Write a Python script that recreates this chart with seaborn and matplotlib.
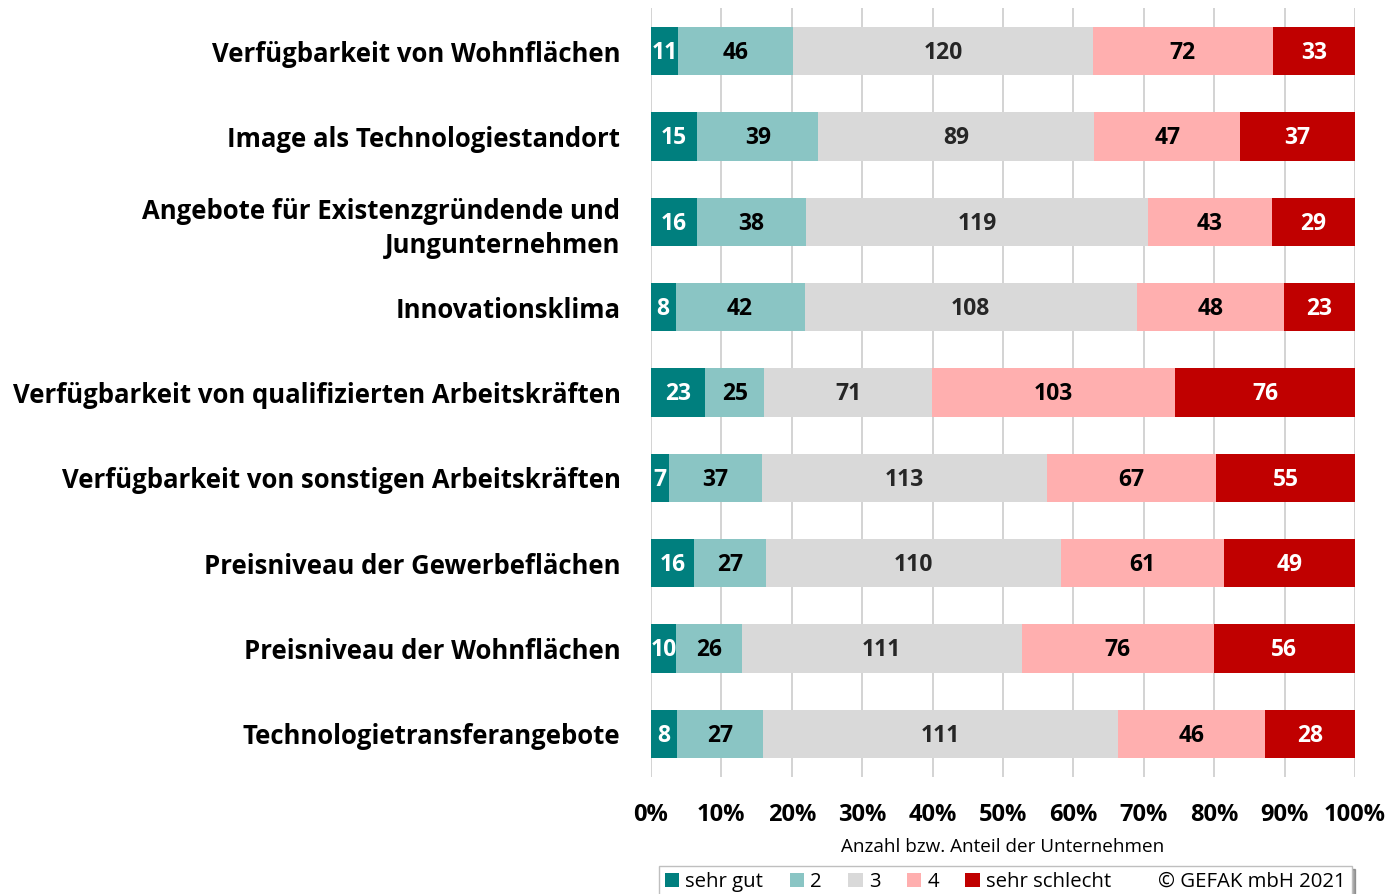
import numpy as np
import pandas as pd
import matplotlib
matplotlib.use("Agg")
import matplotlib.pyplot as plt
import seaborn as sns
from matplotlib.patches import Patch

# Data
categories = [
    "Verfügbarkeit von Wohnflächen",
    "Image als Technologiestandort",
    "Angebote für Existenzgründende und\nJungunternehmen",
    "Innovationsklima",
    "Verfügbarkeit von qualifizierten Arbeitskräften",
    "Verfügbarkeit von sonstigen Arbeitskräften",
    "Preisniveau der Gewerbeflächen",
    "Preisniveau der Wohnflächen",
    "Technologietransferangebote",
]
sehr_gut = [11, 15, 16, 8, 23, 7, 16, 10, 8]
note_2 = [46, 39, 38, 42, 25, 37, 27, 26, 27]
note_3 = [120, 89, 119, 108, 71, 113, 110, 111, 111]
note_4 = [72, 47, 43, 48, 103, 67, 61, 76, 46]
sehr_schlecht = [33, 37, 29, 23, 76, 55, 49, 56, 28]

levels = ["sehr gut", "2", "3", "4", "sehr schlecht"]
colors = ["#007F7E", "#8AC5C4", "#D9D9D9", "#FFAFAF", "#C00000"]
text_colors = ["white", "black", "#262626", "black", "white"]

counts = pd.DataFrame(
    np.array([sehr_gut, note_2, note_3, note_4, sehr_schlecht]).T,
    columns=levels, index=categories)
share = counts.div(counts.sum(axis=1), axis=0) * 100
cum = share.cumsum(axis=1)

plt.rcParams["font.family"] = ["Open Sans", "DejaVu Sans"]
fig = plt.figure(figsize=(13.9, 8.94), dpi=100)
ax = fig.add_axes([0.4683, 0.1313, 0.5065, 0.8593])

# stacked bars: draw cumulative totals from the right end downwards
for i in range(len(levels) - 1, -1, -1):
    df = pd.DataFrame({"cat": categories, "val": cum[levels[i]].values})
    sns.barplot(data=df, x="val", y="cat", orient="h", color=colors[i],
                width=0.565, saturation=1, ax=ax, zorder=2)

# value labels
for i, lvl in enumerate(levels):
    start = cum[lvl] - share[lvl]
    for j, cat in enumerate(categories):
        ax.text(start.iloc[j] + share[lvl].iloc[j] / 2, j + 0.02, str(counts[lvl].iloc[j]),
                ha="center", va="center", fontsize=16.5, fontweight="bold",
                color=text_colors[i], zorder=3)

ax.set_xlim(0, 100)
ax.set_ylim(len(categories) - 0.5, -0.5)
ax.set_xticks(np.arange(0, 101, 10))
ax.set_xticklabels([f"{v}%" for v in range(0, 101, 10)], fontsize=17, fontweight="bold")
ax.tick_params(axis="x", length=0, pad=19)
ax.tick_params(axis="y", length=0, pad=22)
ax.set_yticks(range(len(categories)))
ax.set_yticklabels(categories, fontsize=18.5, fontweight="bold", ha="right")
for lab in ax.get_yticklabels():
    lab.set_linespacing(1.35)
ax.set_ylabel("")
ax.set_xlabel("Anzahl bzw. Anteil der Unternehmen", fontsize=13.6, labelpad=8)
ax.grid(axis="x", color="#D0D0D0", linewidth=1.3, zorder=0)
ax.set_axisbelow(True)
for s in ax.spines.values():
    s.set_visible(False)

handles = [Patch(facecolor=c, edgecolor="none") for c in colors]
handles.append(Patch(facecolor="none", edgecolor="none"))
labels = levels + ["© GEFAK mbH 2021"]
leg = fig.legend(handles, labels, loc="lower center", bbox_to_anchor=(0.7232, -0.016),
                 ncol=6, fontsize=14.7, frameon=True, fancybox=False, shadow=True,
                 handlelength=0.7, handleheight=0.7, handletextpad=0.3,
                 columnspacing=1.3, borderpad=0.3)
leg.get_frame().set_edgecolor("#BFBFBF")

fig.savefig("out.png", dpi=100)
